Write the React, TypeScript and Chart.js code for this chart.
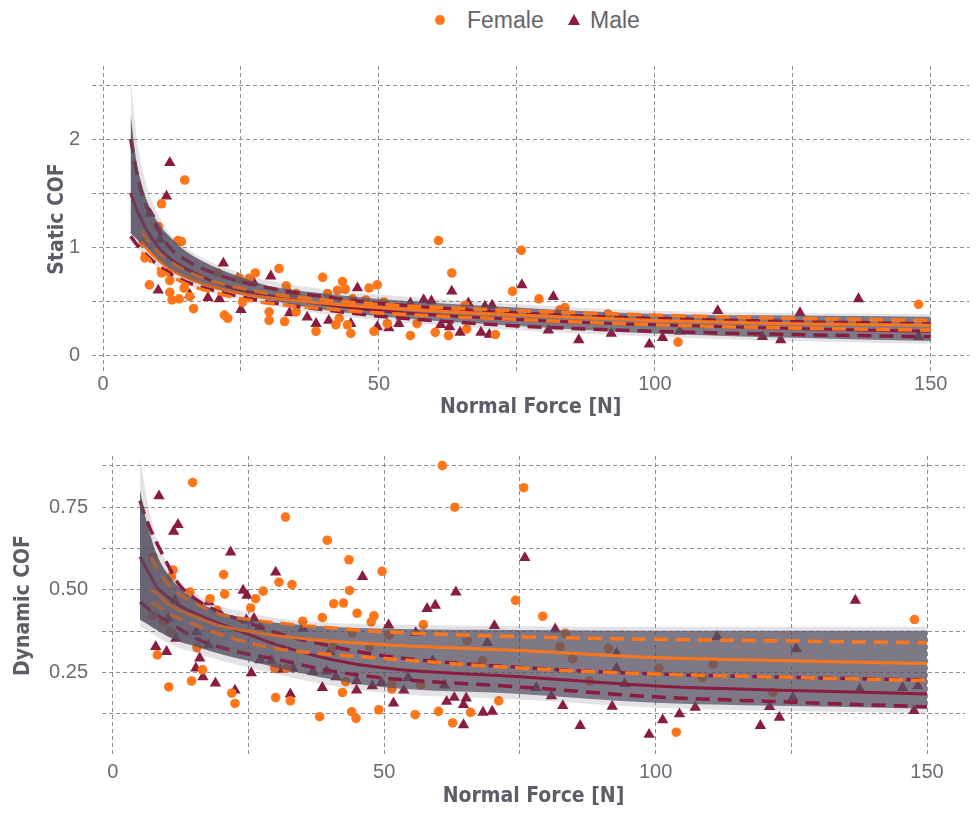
import React, { useEffect, useRef } from 'react';
import { Chart, registerables } from 'chart.js';

Chart.register(...registerables);

// ---------- shared ----------
const fitX = [5, 6, 7, 8, 10, 12, 15, 20, 25, 30, 40, 50, 75, 100, 125, 150];
const xGridValues = [0, 25, 50, 75, 100, 125, 150];
const xTickLabels = ['0', '', '50', '', '100', '', '150'];

// ---------- static COF (top) ----------
const sYGridValues = [0, 0.5, 1, 1.5, 2, 2.5];
const sYTickLabels = ['0', '', '1', '', '2', ''];

const sRibbonTopSoft = [2.57, 2.05, 1.75, 1.55, 1.3, 1.13, 0.99, 0.85, 0.76, 0.69, 0.61, 0.56, 0.47, 0.41, 0.39, 0.38];
const sRibbonTop = [2.22, 1.8, 1.58, 1.42, 1.22, 1.1, 0.96, 0.82, 0.72, 0.64, 0.57, 0.52, 0.44, 0.38, 0.365, 0.355];
const sRibbonBottom = [1.13, 1.08, 1.03, 0.99, 0.88, 0.8, 0.71, 0.62, 0.56, 0.51, 0.42, 0.36, 0.27, 0.2, 0.16, 0.13];
const sRibbonBottomSoft = [1.05, 1.0, 0.95, 0.9, 0.8, 0.73, 0.65, 0.57, 0.51, 0.46, 0.38, 0.32, 0.23, 0.17, 0.13, 0.105];

const sMaleUpper = [2.0, 1.72, 1.5, 1.36, 1.16, 1.0, 0.88, 0.76, 0.68, 0.62, 0.54, 0.48, 0.39, 0.34, 0.31, 0.29];
const sMaleMean = [1.5, 1.36, 1.25, 1.15, 1.0, 0.9, 0.8, 0.68, 0.6, 0.55, 0.47, 0.41, 0.33, 0.28, 0.245, 0.22];
const sMaleLower = [1.1, 1.03, 0.97, 0.92, 0.83, 0.76, 0.68, 0.6, 0.54, 0.49, 0.42, 0.36, 0.27, 0.22, 0.19, 0.17];
const sFemaleUpper = [null, null, 1.15, 1.07, 0.95, 0.87, 0.78, 0.68, 0.62, 0.57, 0.51, 0.47, 0.41, 0.37, 0.34, 0.32];
const sFemaleMean = [null, null, 1.05, 0.98, 0.88, 0.8, 0.72, 0.63, 0.57, 0.53, 0.48, 0.44, 0.37, 0.32, 0.29, 0.275];
const sFemaleLower = [null, null, 0.95, 0.9, 0.8, 0.74, 0.66, 0.58, 0.52, 0.48, 0.43, 0.39, 0.33, 0.28, 0.25, 0.23];

const sFemalePts: [number, number][] = [
  [14.8, 1.62], [10.6, 1.40], [10.0, 1.19], [13.6, 1.06], [14.2, 1.05], [7.3, 1.04], [7.6, 0.90], [8.4, 0.65],
  [12.1, 0.58], [13.8, 0.52], [15.7, 0.54], [16.4, 0.43], [10.6, 0.76], [12.1, 0.69], [14.7, 0.62], [20.8, 0.76],
  [22.0, 0.37], [22.6, 0.34], [24.7, 0.71], [26.5, 0.71], [27.6, 0.76], [25.3, 0.49], [31.9, 0.80], [33.2, 0.64],
  [30.1, 0.40], [30.1, 0.32], [32.9, 0.31], [35.0, 0.57], [35.0, 0.40], [39.8, 0.72], [40.7, 0.57], [38.6, 0.22],
  [42.5, 0.60], [43.4, 0.68], [43.9, 0.61], [42.8, 0.34], [42.2, 0.28], [44.3, 0.28], [44.9, 0.20], [45.2, 0.52],
  [48.2, 0.62], [49.7, 0.65], [47.6, 0.51], [49.1, 0.22], [50.9, 0.49], [51.5, 0.29], [55.7, 0.18], [56.9, 0.29],
  [60.2, 0.21], [60.8, 1.06], [63.2, 0.76], [62.6, 0.18], [65.9, 0.24], [65.6, 0.46], [71.1, 0.19], [74.2, 0.59],
  [75.8, 0.97], [79.0, 0.52], [82.8, 0.42], [83.7, 0.44], [91.5, 0.38], [104.2, 0.12], [147.8, 0.47], [12.5, 0.51]
];
const sMalePts: [number, number][] = [
  [12.1, 1.78], [11.5, 1.47], [8.5, 1.31], [10.3, 1.07], [11.8, 0.77], [10.0, 0.60], [15.7, 0.56], [19.0, 0.53],
  [21.1, 0.52], [21.8, 0.85], [24.4, 0.71], [25.0, 0.42], [30.4, 0.73], [27.3, 0.67], [33.8, 0.57], [33.8, 0.39],
  [37.0, 0.35], [38.6, 0.29], [40.9, 0.32], [44.9, 0.29], [46.1, 0.62], [49.7, 0.26], [51.8, 0.25], [53.6, 0.29],
  [55.7, 0.48], [58.1, 0.51], [59.5, 0.50], [61.2, 0.28], [63.2, 0.59], [62.8, 0.26], [64.7, 0.21], [66.2, 0.48],
  [68.5, 0.21], [70.0, 0.19], [69.2, 0.45], [70.5, 0.46], [75.9, 0.65], [81.6, 0.54], [80.7, 0.23], [86.2, 0.14],
  [92.1, 0.20], [99.0, 0.10], [101.4, 0.16], [104.5, 0.22], [111.4, 0.41], [119.5, 0.17], [122.8, 0.14],
  [126.3, 0.39], [136.9, 0.52], [147.8, 0.17]
];

// ---------- dynamic COF (bottom) ----------
const dYGridValues = [0.125, 0.25, 0.375, 0.5, 0.625, 0.75, 0.875];
const dYTickLabels = ['', '0.25', '', '0.50', '', '0.75', ''];

const dRibbonTopSoft = [0.9, 0.8, 0.72, 0.66, 0.58, 0.53, 0.49, 0.45, 0.43, 0.415, 0.4, 0.395, 0.39, 0.388, 0.388, 0.388];
const dRibbonTop = [0.8, 0.72, 0.66, 0.61, 0.55, 0.51, 0.47, 0.432, 0.412, 0.4, 0.388, 0.382, 0.378, 0.376, 0.376, 0.376];
const dRibbonBottom = [0.41, 0.4, 0.39, 0.38, 0.36, 0.345, 0.33, 0.305, 0.285, 0.265, 0.23, 0.205, 0.185, 0.158, 0.148, 0.14];
const dRibbonBottomSoft = [0.39, 0.38, 0.37, 0.36, 0.34, 0.325, 0.31, 0.285, 0.265, 0.245, 0.21, 0.188, 0.168, 0.143, 0.133, 0.126];

const dMaleUpper = [0.77, 0.72, 0.68, 0.645, 0.58, 0.52, 0.475, 0.43, 0.40, 0.37, 0.33, 0.30, 0.265, 0.245, 0.235, 0.227];
const dMaleMean = [0.6, 0.57, 0.54, 0.51, 0.48, 0.455, 0.43, 0.395, 0.365, 0.335, 0.29, 0.263, 0.237, 0.209, 0.195, 0.185];
const dMaleLower = [0.463, 0.45, 0.435, 0.425, 0.405, 0.385, 0.355, 0.325, 0.305, 0.29, 0.255, 0.233, 0.206, 0.176, 0.16, 0.146];
const dFemaleUpper = [null, null, 0.6, 0.57, 0.52, 0.49, 0.46, 0.425, 0.41, 0.4, 0.385, 0.373, 0.358, 0.35, 0.345, 0.34];
const dFemaleMean = [null, null, 0.5, 0.49, 0.46, 0.44, 0.42, 0.39, 0.375, 0.362, 0.345, 0.334, 0.316, 0.295, 0.285, 0.277];
const dFemaleLower = [null, null, 0.46, 0.454, 0.43, 0.415, 0.395, 0.364, 0.34, 0.322, 0.305, 0.292, 0.263, 0.245, 0.235, 0.225];

const dFemalePts: [number, number][] = [
  [14.7, 0.825], [31.8, 0.72], [39.5, 0.65], [7.4, 0.60], [11.1, 0.56], [10.8, 0.54], [20.4, 0.546], [20.6, 0.487],
  [17.9, 0.473], [14.2, 0.493], [19.2, 0.438], [27.7, 0.496], [30.6, 0.523], [33.0, 0.516], [26.3, 0.473], [25.4, 0.445],
  [7.4, 0.421], [9.3, 0.403], [10.5, 0.373], [8.2, 0.303], [15.5, 0.325], [16.5, 0.258], [14.5, 0.224], [10.3, 0.206],
  [21.9, 0.187], [22.5, 0.156], [30.0, 0.174], [32.7, 0.164], [38.1, 0.116], [29.8, 0.263], [32.0, 0.262], [35.0, 0.405],
  [38.6, 0.416], [60.7, 0.876], [75.7, 0.809], [63.0, 0.75], [43.5, 0.591], [49.6, 0.556], [43.6, 0.498], [40.7, 0.458],
  [42.5, 0.46], [45.0, 0.429], [48.1, 0.421], [47.6, 0.403], [57.2, 0.395], [74.2, 0.468], [79.2, 0.42], [42.9, 0.222],
  [42.3, 0.189], [51.4, 0.214], [51.4, 0.2], [56.7, 0.212], [71.1, 0.164], [44.0, 0.131], [44.8, 0.111], [49.0, 0.137],
  [55.7, 0.122], [60.0, 0.132], [62.6, 0.097], [65.9, 0.129], [44.1, 0.37], [50.9, 0.363], [65.3, 0.346], [68.1, 0.285],
  [47.3, 0.328], [40.6, 0.326], [83.4, 0.368], [82.4, 0.328], [84.7, 0.291], [91.3, 0.323], [87.8, 0.224], [100.6, 0.262],
  [110.6, 0.275], [108.6, 0.234], [103.8, 0.069], [121.6, 0.189], [147.7, 0.41]
];
const dMalePts: [number, number][] = [
  [8.5, 0.784], [12.0, 0.697], [11.2, 0.677], [21.7, 0.614], [30.0, 0.553], [24.0, 0.498], [24.7, 0.483], [17.7, 0.463],
  [11.4, 0.468], [24.6, 0.408], [26.0, 0.413], [27.1, 0.388], [35.0, 0.383], [10.2, 0.413], [11.6, 0.353], [7.9, 0.328],
  [9.9, 0.313], [15.4, 0.373], [17.6, 0.333], [16.0, 0.293], [15.3, 0.263], [16.6, 0.236], [18.9, 0.217], [22.5, 0.196],
  [27.1, 0.288], [25.5, 0.248], [29.2, 0.286], [30.8, 0.259], [32.7, 0.184], [33.2, 0.262], [36.9, 0.252], [38.6, 0.204],
  [46.0, 0.54], [63.2, 0.493], [57.9, 0.443], [59.4, 0.453], [75.9, 0.597], [50.8, 0.393], [55.8, 0.37], [70.3, 0.391],
  [69.0, 0.34], [81.5, 0.381], [58.9, 0.285], [39.4, 0.254], [41.1, 0.236], [44.9, 0.224], [44.9, 0.196], [47.8, 0.209],
  [49.5, 0.219], [53.6, 0.196], [51.7, 0.157], [54.4, 0.234], [61.1, 0.211], [61.5, 0.162], [62.9, 0.174], [65.1, 0.172],
  [64.6, 0.152], [64.6, 0.091], [68.2, 0.129], [69.9, 0.132], [80.8, 0.179], [78.0, 0.204], [40.0, 0.313], [92.8, 0.308],
  [92.8, 0.262], [94.3, 0.216], [82.9, 0.149], [86.1, 0.089], [92.0, 0.147], [98.8, 0.062], [101.3, 0.106], [104.4, 0.124],
  [107.3, 0.144], [111.3, 0.358], [119.3, 0.089], [121.0, 0.146], [122.8, 0.114], [125.9, 0.321], [125.3, 0.174],
  [136.8, 0.468], [145.5, 0.204], [148.3, 0.209], [147.6, 0.134], [137.6, 0.199]
];

// ---------- styles ----------
const ORANGE = '#FF7519';
const MALE = '#8A1D3F';
const GRID = '#8e8e8e';
const TICK = '#6d6a74';
const TITLE = '#5f5b68';
const FONT = "'Liberation Sans', Arial, sans-serif";
const NARROW = "'Liberation Sans Narrow', 'Arial Narrow', 'DejaVu Sans Condensed', sans-serif";
const RIBBON_CORE = 'rgba(86,82,100,0.72)';
const RIBBON_SOFT = 'rgba(86,82,100,0.17)';

type Num = number | null;

function curve(ys: Num[]) {
  const out: { x: number; y: number }[] = [];
  fitX.forEach((x, i) => {
    const y = ys[i];
    if (y !== null && y !== undefined) out.push({ x, y });
  });
  return out;
}

function pts(list: [number, number][]) {
  return list.map(([x, y]) => ({ x, y }));
}

// veil over the left part of the lines (the dense draws cover them there)
function veil(ctx: any) {
  const chart = ctx.chart;
  const xs = chart.scales && chart.scales.x;
  if (!chart.chartArea || !xs) return 'rgba(86,82,100,0.3)';
  const g = chart.ctx.createLinearGradient(xs.getPixelForValue(5), 0, xs.getPixelForValue(45), 0);
  g.addColorStop(0, 'rgba(86,82,100,0.55)');
  g.addColorStop(0.5, 'rgba(86,82,100,0.3)');
  g.addColorStop(1, 'rgba(86,82,100,0)');
  return g;
}

interface PanelCfg {
  femalePts: [number, number][];
  malePts: [number, number][];
  topSoft: Num[]; top: Num[]; bottom: Num[]; bottomSoft: Num[];
  mU: Num[]; mM: Num[]; mL: Num[]; fU: Num[]; fM: Num[]; fL: Num[];
}

function buildDatasets(c: PanelCfg): any[] {
  const lineBase = {
    pointRadius: 0, fill: false, cubicInterpolationMode: 'monotone', borderCapStyle: 'butt', showLine: true,
  };
  const edge = { borderWidth: 0, borderColor: 'rgba(0,0,0,0)' };
  const dashed = [14, 8];
  return [
    // veil on top of the lines at low force
    { ...lineBase, ...edge, label: 'vt', data: curve(c.top), fill: '+1', backgroundColor: veil, order: -1 },
    { ...lineBase, ...edge, label: 'vb', data: curve(c.bottom), order: -1 },
    // lines
    { ...lineBase, label: 'fU', data: curve(c.fU), borderColor: ORANGE, borderWidth: 3.5, borderDash: dashed, order: 0 },
    { ...lineBase, label: 'fM', data: curve(c.fM), borderColor: ORANGE, borderWidth: 3, order: 0 },
    { ...lineBase, label: 'fL', data: curve(c.fL), borderColor: ORANGE, borderWidth: 3.5, borderDash: dashed, order: 0 },
    { ...lineBase, label: 'mU', data: curve(c.mU), borderColor: MALE, borderWidth: 3.5, borderDash: dashed, order: 1 },
    { ...lineBase, label: 'mM', data: curve(c.mM), borderColor: MALE, borderWidth: 3, order: 1 },
    { ...lineBase, label: 'mL', data: curve(c.mL), borderColor: MALE, borderWidth: 3.5, borderDash: dashed, order: 1 },
    // ribbon core
    { ...lineBase, ...edge, label: 'rt', data: curve(c.top), fill: '+1', backgroundColor: RIBBON_CORE, order: 2 },
    { ...lineBase, ...edge, label: 'rb', data: curve(c.bottom), order: 2 },
    // ribbon soft
    { ...lineBase, ...edge, label: 'rts', data: curve(c.topSoft), fill: '+1', backgroundColor: RIBBON_SOFT, order: 3 },
    { ...lineBase, ...edge, label: 'rbs', data: curve(c.bottomSoft), order: 3 },
    // points
    {
      label: 'Female', data: pts(c.femalePts), showLine: false, pointStyle: 'circle', pointRadius: 4.8,
      pointBackgroundColor: ORANGE, pointBorderWidth: 0, borderColor: ORANGE, backgroundColor: ORANGE, order: 4,
    },
    {
      label: 'Male', data: pts(c.malePts), showLine: false, pointStyle: 'triangle', pointRadius: 6.6,
      pointBackgroundColor: MALE, pointBorderWidth: 0, borderColor: MALE, backgroundColor: MALE, order: 5,
    },
  ];
}

interface AxisCfg {
  yMin: number; yMax: number; yGrid: number[]; yLabels: string[]; yTitle: string;
  padding: { top: number; left: number; right: number; bottom: number };
  yWidth: number; xHeight: number; yTickPad: number; xTickPad: number;
}

function buildOptions(a: AxisCfg): any {
  return {
    responsive: false,
    animation: false,
    events: [],
    layout: { padding: a.padding },
    plugins: { legend: { display: false }, tooltip: { enabled: false } },
    scales: {
      x: {
        type: 'linear', min: -2, max: 157,
        afterBuildTicks: (s: any) => { s.ticks = xGridValues.map((v) => ({ value: v })); },
        afterFit: (s: any) => { s.height = a.xHeight; },
        ticks: {
          autoSkip: false, maxRotation: 0, padding: a.xTickPad, color: TICK,
          font: { size: 20, family: FONT },
          callback: (_v: any, i: number) => xTickLabels[i],
        },
        grid: { color: GRID, lineWidth: 1, drawTicks: false },
        border: { display: false, dash: [4, 3] },
        title: {
          display: true, text: 'Normal Force [N]', color: TITLE, padding: 0,
          font: { size: 21, weight: 'bold', family: NARROW },
        },
      },
      y: {
        type: 'linear', min: a.yMin, max: a.yMax,
        afterBuildTicks: (s: any) => { s.ticks = a.yGrid.map((v) => ({ value: v })); },
        afterFit: (s: any) => { s.width = a.yWidth; },
        ticks: {
          autoSkip: false, padding: a.yTickPad, color: TICK,
          font: { size: 20, family: FONT },
          callback: (_v: any, i: number) => a.yLabels[i],
        },
        grid: { color: GRID, lineWidth: 1, drawTicks: false },
        border: { display: false, dash: [4, 3] },
        title: {
          display: true, text: a.yTitle, color: TITLE, padding: 0,
          font: { size: 21, weight: 'bold', family: NARROW },
        },
      },
    },
  };
}

function Panel(props: { cfg: PanelCfg; axis: AxisCfg; top: number; height: number }) {
  const ref = useRef<HTMLCanvasElement>(null);
  useEffect(() => {
    if (!ref.current) return;
    const chart = new Chart(ref.current, {
      type: 'line',
      data: { datasets: buildDatasets(props.cfg) },
      options: buildOptions(props.axis),
    } as any);
    return () => chart.destroy();
  }, []);
  return (
    <canvas
      ref={ref}
      width={976}
      height={props.height}
      style={{ position: 'absolute', left: 0, top: props.top, width: 976, height: props.height }}
    />
  );
}

const staticCfg: PanelCfg = {
  femalePts: sFemalePts, malePts: sMalePts,
  topSoft: sRibbonTopSoft, top: sRibbonTop, bottom: sRibbonBottom, bottomSoft: sRibbonBottomSoft,
  mU: sMaleUpper, mM: sMaleMean, mL: sMaleLower, fU: sFemaleUpper, fM: sFemaleMean, fL: sFemaleLower,
};
const dynamicCfg: PanelCfg = {
  femalePts: dFemalePts, malePts: dMalePts,
  topSoft: dRibbonTopSoft, top: dRibbonTop, bottom: dRibbonBottom, bottomSoft: dRibbonBottomSoft,
  mU: dMaleUpper, mM: dMaleMean, mL: dMaleLower, fU: dFemaleUpper, fM: dFemaleMean, fL: dFemaleLower,
};

const staticAxis: AxisCfg = {
  yMin: -0.157, yMax: 2.676, yGrid: sYGridValues, yLabels: sYTickLabels, yTitle: 'Static COF',
  padding: { top: 66, left: 45.4, right: 3.3, bottom: 9.4 },
  yWidth: 46.6, xHeight: 48.6, yTickPad: 12, xTickPad: 0,
};
const dynamicAxis: AxisCfg = {
  yMin: 0, yMax: 0.905, yGrid: dYGridValues, yLabels: dYTickLabels, yTitle: 'Dynamic COF',
  padding: { top: 22, left: 11.4, right: 11, bottom: 4.4 },
  yWidth: 90.6, xHeight: 54.6, yTickPad: 14, xTickPad: 5,
};

function Legend() {
  const text: React.CSSProperties = {
    position: 'absolute', top: 0, height: 40, lineHeight: '40px', fontSize: 23,
    fontFamily: FONT, color: '#66636d', whiteSpace: 'nowrap',
  };
  return (
    <>
      <div style={{ position: 'absolute', left: 435, top: 15, width: 10, height: 10, borderRadius: 5, background: ORANGE }} />
      <div style={{ ...text, left: 467 }}>Female</div>
      <div
        style={{
          position: 'absolute', left: 568, top: 14, width: 0, height: 0,
          borderLeft: '6px solid transparent', borderRight: '6px solid transparent', borderBottom: `11px solid ${MALE}`,
        }}
      />
      <div style={{ ...text, left: 590 }}>Male</div>
    </>
  );
}

export default function App() {
  return (
    <div style={{ position: 'absolute', left: 0, top: 0, width: 976, height: 814, background: '#ffffff', overflow: 'hidden' }}>
      <Legend />
      <Panel cfg={staticCfg} axis={staticAxis} top={0} height={430} />
      <Panel cfg={dynamicCfg} axis={dynamicAxis} top={430} height={384} />
    </div>
  );
}
